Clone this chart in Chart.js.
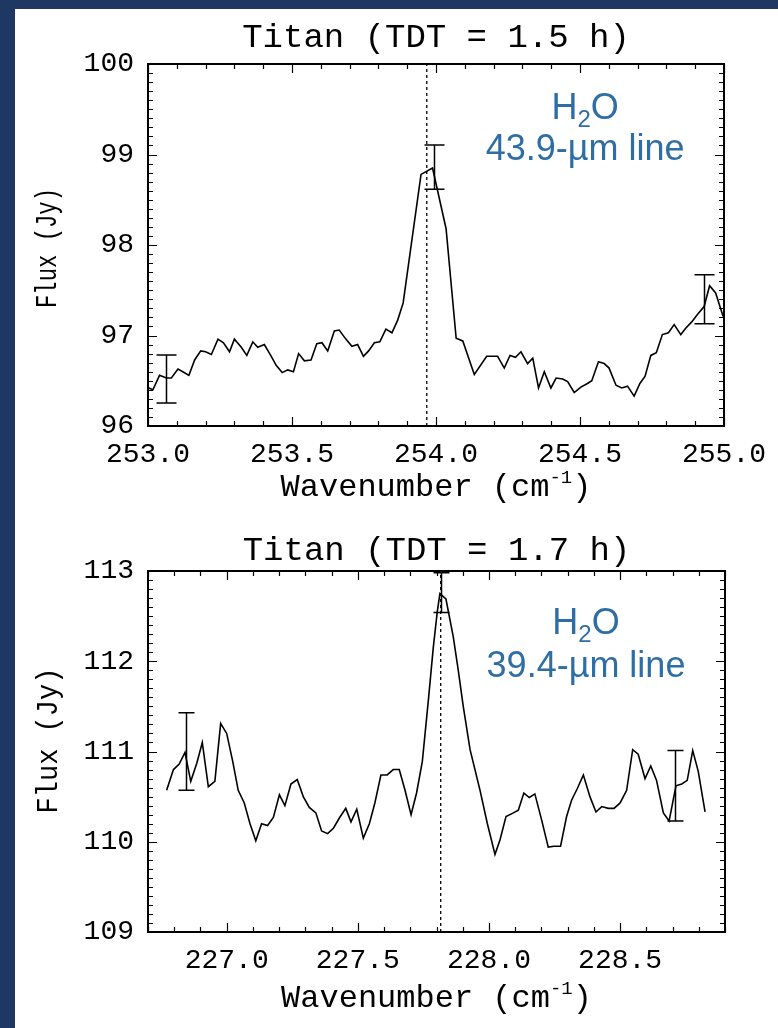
<!DOCTYPE html>
<html>
<head>
<meta charset="utf-8">
<script src="https://cdn.jsdelivr.net/npm/chart.js@4.4.1/dist/chart.umd.min.js"></script>
<style>
  html, body { margin: 0; padding: 0; }
  body { width: 778px; height: 1028px; background: #1f3863; position: relative; overflow: hidden; }
  #panel { position: absolute; left: 15px; top: 9px; width: 763px; height: 1019px; background: #fff; }
  #panel canvas { position: absolute; left: 0; }
  #c1 { top: 0; }
  #c2 { top: 500px; }
</style>
</head>
<body>
<div id="panel">
  <canvas id="c1" width="763" height="500"></canvas>
  <canvas id="c2" width="763" height="519"></canvas>
</div>
<script>
// ---- 43.9 um spectrum, TDT = 1.5 h ----
const wn15 = [253.003, 253.017, 253.040, 253.064, 253.081, 253.104, 253.121, 253.142, 253.162, 253.183,
  253.200, 253.220, 253.243, 253.262, 253.283, 253.300, 253.324, 253.343, 253.364, 253.381,
  253.404, 253.428, 253.445, 253.466, 253.485, 253.505, 253.523, 253.543, 253.566, 253.586,
  253.604, 253.624, 253.647, 253.664, 253.687, 253.708, 253.728, 253.748, 253.766, 253.786,
  253.805, 253.826, 253.847, 253.867, 253.886, 253.948, 253.988, 254.035, 254.070, 254.093,
  254.133, 254.176, 254.214, 254.237, 254.257, 254.276, 254.295, 254.318, 254.336, 254.356,
  254.376, 254.399, 254.417, 254.440, 254.457, 254.480, 254.503, 254.526, 254.541, 254.564,
  254.584, 254.601, 254.625, 254.645, 254.665, 254.688, 254.708, 254.726, 254.746, 254.765,
  254.786, 254.807, 254.827, 254.850, 254.867, 254.888, 254.907, 254.931, 254.950, 254.971,
  254.997];
const flux15 = [96.42, 96.40, 96.56, 96.53, 96.53, 96.63, 96.60, 96.56, 96.73, 96.83,
  96.82, 96.79, 96.96, 96.92, 96.82, 96.96, 96.87, 96.78, 96.93, 96.87,
  96.90, 96.77, 96.67, 96.59, 96.62, 96.60, 96.80, 96.72, 96.73, 96.91,
  96.92, 96.83, 97.05, 97.06, 96.96, 96.88, 96.90, 96.77, 96.83, 96.92,
  96.93, 97.07, 97.03, 97.17, 97.36, 98.78, 98.85, 98.18, 96.97, 96.94,
  96.57, 96.77, 96.77, 96.64, 96.78, 96.76, 96.82, 96.69, 96.75, 96.42,
  96.60, 96.42, 96.53, 96.52, 96.49, 96.37, 96.43, 96.47, 96.50, 96.71,
  96.69, 96.64, 96.45, 96.42, 96.44, 96.33, 96.47, 96.55, 96.78, 96.81,
  97.01, 97.03, 97.12, 97.01, 97.08, 97.15, 97.23, 97.32, 97.55, 97.47,
  97.21];
const errWn15 = [253.061, 253.993, 254.931];
const errFlux15 = [96.52, 98.86, 97.40];
const errSize15 = [0.265, 0.245, 0.27];
const line15 = 253.968;
const xTicks15 = [253.0, 253.5, 254.0, 254.5, 255.0];
const yTicks15 = [96, 97, 98, 99, 100];

// ---- 39.4 um spectrum, TDT = 1.7 h ----
const wn17 = [226.771, 226.797, 226.819, 226.841, 226.863, 226.886, 226.907, 226.930, 226.955, 226.977,
  227.000, 227.023, 227.044, 227.067, 227.089, 227.111, 227.133, 227.156, 227.178, 227.201,
  227.222, 227.245, 227.269, 227.292, 227.315, 227.340, 227.362, 227.385, 227.407, 227.429,
  227.454, 227.474, 227.496, 227.521, 227.544, 227.565, 227.588, 227.612, 227.635, 227.658,
  227.680, 227.703, 227.724, 227.746, 227.769, 227.788, 227.803, 227.813, 227.836, 227.864,
  227.883, 227.902, 227.928, 227.966, 227.994, 228.023, 228.042, 228.065, 228.093, 228.112,
  228.133, 228.154, 228.175, 228.201, 228.226, 228.248, 228.273, 228.296, 228.315, 228.337,
  228.360, 228.385, 228.408, 228.430, 228.455, 228.477, 228.500, 228.525, 228.548, 228.569,
  228.595, 228.617, 228.639, 228.665, 228.687, 228.713, 228.735, 228.756, 228.777, 228.798,
  228.824];
const flux17 = [110.57, 110.80, 110.86, 110.99, 110.67, 110.87, 111.10, 110.61, 110.67, 111.31,
  111.20, 110.89, 110.57, 110.43, 110.20, 110.01, 110.20, 110.18, 110.27, 110.52,
  110.40, 110.64, 110.69, 110.50, 110.38, 110.32, 110.12, 110.09, 110.15, 110.26,
  110.37, 110.22, 110.36, 110.04, 110.20, 110.43, 110.74, 110.74, 110.80, 110.80,
  110.57, 110.30, 110.54, 110.89, 111.57, 112.16, 112.55, 112.75, 112.69, 112.27,
  111.90, 111.50, 111.02, 110.57, 110.20, 109.86, 110.02, 110.28, 110.32, 110.35,
  110.54, 110.49, 110.53, 110.24, 109.94, 109.95, 109.95, 110.28, 110.46, 110.59,
  110.74, 110.50, 110.33, 110.39, 110.37, 110.37, 110.43, 110.57, 111.02, 110.97,
  110.70, 110.84, 110.68, 110.32, 110.23, 110.62, 110.64, 110.68, 111.01, 110.78,
  110.33];
const errWn17 = [226.844, 227.816, 228.709];
const errFlux17 = [111.00, 112.76, 110.62];
const errSize17 = [0.43, 0.22, 0.39];
const line17 = 227.816;
const xTicks17 = [227.0, 227.5, 228.0, 228.5];
const yTicks17 = [109, 110, 111, 112, 113];

const MONO = '"Liberation Mono", "DejaVu Sans Mono", monospace';
const SANS = '"Liberation Sans", Arial, sans-serif';
const NOTE_BLUE = '#2f6ea5';

// IDL-style frame: inward ticks on all four sides, error bars, titles and the line label
const idlFrame = {
  id: 'idlFrame',
  afterDatasetsDraw(chart, args, o) {
    const { ctx, chartArea: a } = chart;
    const x = chart.scales.x, y = chart.scales.y;
    ctx.save();
    ctx.strokeStyle = '#000';
    ctx.fillStyle = '#000';

    // error bars
    ctx.lineWidth = 1.5;
    o.errX.forEach((v, i) => {
      const px = Math.round(x.getPixelForValue(v)) + 0.5;
      const hi = y.getPixelForValue(o.errY[i] + o.errD[i]);
      const lo = y.getPixelForValue(o.errY[i] - o.errD[i]);
      ctx.beginPath();
      ctx.moveTo(px, hi); ctx.lineTo(px, lo);
      ctx.moveTo(px - o.cap, hi); ctx.lineTo(px + o.cap, hi);
      ctx.moveTo(px - o.cap, lo); ctx.lineTo(px + o.cap, lo);
      ctx.stroke();
    });

    // tick marks, major every label, minor every 0.1
    ctx.lineWidth = 1.2;
    const marks = (scale, majors, horizontal) => {
      const step = 0.1;
      const k0 = Math.ceil(scale.min / step - 1e-6);
      const k1 = Math.floor(scale.max / step + 1e-6);
      ctx.beginPath();
      for (let k = k0; k <= k1; k++) {
        const v = k * step;
        const len = majors.some(m => Math.abs(m - v) < 1e-6) ? 9 : 5;
        const p = Math.round(scale.getPixelForValue(v)) + 0.5;
        if (horizontal) {
          ctx.moveTo(p, a.bottom); ctx.lineTo(p, a.bottom - len);
          ctx.moveTo(p, a.top); ctx.lineTo(p, a.top + len);
        } else {
          ctx.moveTo(a.left, p); ctx.lineTo(a.left + len, p);
          ctx.moveTo(a.right, p); ctx.lineTo(a.right - len, p);
        }
      }
      ctx.stroke();
    };
    marks(x, o.xTicks, true);
    marks(y, o.yTicks, false);

    // frame
    ctx.lineWidth = 2;
    ctx.strokeRect(a.left, a.top, a.right - a.left, a.bottom - a.top);

    const cx = (a.left + a.right) / 2;

    // plot title
    ctx.textAlign = 'center';
    ctx.textBaseline = 'middle';
    ctx.font = '34px ' + MONO;
    ctx.fillText(o.title, cx, a.top - o.titleGap);

    // x axis title with superscript
    ctx.font = '32px ' + MONO;
    const main = 'Wavenumber (cm', tail = ')';
    const wMain = ctx.measureText(main).width;
    const wTail = ctx.measureText(tail).width;
    ctx.font = '19px ' + MONO;
    const sup = '-1';
    const wSup = ctx.measureText(sup).width;
    let tx = cx - (wMain + wSup + wTail) / 2;
    const ty = a.bottom + o.xTitleGap;
    ctx.textAlign = 'left';
    ctx.textBaseline = 'alphabetic';
    ctx.font = '32px ' + MONO;
    ctx.fillText(main, tx, ty);
    ctx.font = '19px ' + MONO;
    ctx.fillText(sup, tx + wMain, ty - 13);
    ctx.font = '32px ' + MONO;
    ctx.fillText(tail, tx + wMain + wSup, ty);

    // y axis title, set in a narrow column
    ctx.save();
    ctx.translate(o.yTitleX, (a.top + a.bottom) / 2 + o.yTitleShift);
    ctx.rotate(-Math.PI / 2);
    ctx.scale(o.yTitleSqueeze, 1);
    ctx.textAlign = 'center';
    ctx.textBaseline = 'middle';
    ctx.font = '30px ' + MONO;
    ctx.fillText('Flux (Jy)', 0, 0);
    ctx.restore();

    // line label
    ctx.fillStyle = NOTE_BLUE;
    const nx = x.getPixelForValue(o.noteAt);
    const b1 = a.top + o.noteBase[0], b2 = a.top + o.noteBase[1];
    ctx.font = '36px ' + SANS;
    const wH = ctx.measureText('H').width, wO = ctx.measureText('O').width;
    ctx.font = '24px ' + SANS;
    const w2 = ctx.measureText('2').width;
    let hx = nx - (wH + w2 + wO) / 2;
    ctx.textAlign = 'left';
    ctx.font = '36px ' + SANS;
    ctx.fillText('H', hx, b1);
    ctx.font = '24px ' + SANS;
    ctx.fillText('2', hx + wH, b1 + 8);
    ctx.font = '36px ' + SANS;
    ctx.fillText('O', hx + wH + w2, b1);
    ctx.textAlign = 'center';
    ctx.fillText(o.note, nx, b2);

    ctx.restore();
  }
};

function spectrumChart(canvasId, s) {
  const yMin = s.yTicks[0], yMax = s.yTicks[s.yTicks.length - 1];
  const tickFont = { family: MONO, size: 28 };
  return new Chart(document.getElementById(canvasId), {
    type: 'line',
    data: {
      datasets: [
        {
          data: s.wn.map((v, i) => ({ x: v, y: s.flux[i] })),
          borderColor: '#000', borderWidth: 1.6, pointRadius: 0, tension: 0
        },
        {
          // rest wavenumber of the water line
          data: [{ x: s.line, y: yMin }, { x: s.line, y: yMax }],
          borderColor: '#000', borderWidth: 1.3, borderDash: [3, 3], pointRadius: 0
        }
      ]
    },
    options: {
      responsive: false,
      animation: false,
      events: [],
      layout: { padding: { top: s.padTop, right: 53, bottom: 0, left: 0 } },
      plugins: {
        legend: { display: false },
        tooltip: { enabled: false },
        idlFrame: s.frame
      },
      scales: {
        x: {
          type: 'linear', min: s.xMin, max: s.xMax,
          grid: { display: false, drawTicks: false },
          border: { display: false },
          afterBuildTicks: (ax) => { ax.ticks = s.xTicks.map(v => ({ value: v })); },
          afterFit: (ax) => { ax.height = s.xAxisH; },
          ticks: {
            font: tickFont, color: '#000', padding: 12, maxRotation: 0, autoSkip: false,
            callback: (v) => Number(v).toFixed(1)
          }
        },
        y: {
          type: 'linear', min: yMin, max: yMax,
          grid: { display: false, drawTicks: false },
          border: { display: false },
          afterBuildTicks: (ax) => { ax.ticks = s.yTicks.map(v => ({ value: v })); },
          afterFit: (ax) => { ax.width = 133; },
          ticks: {
            font: tickFont, color: '#000', padding: 14, autoSkip: false,
            callback: (v) => String(v)
          }
        }
      }
    },
    plugins: [idlFrame]
  });
}

spectrumChart('c1', {
  wn: wn15, flux: flux15, line: line15,
  xMin: 253.0, xMax: 255.0, xTicks: xTicks15, yTicks: yTicks15,
  padTop: 55, xAxisH: 83,
  frame: {
    title: 'Titan (TDT = 1.5 h)', titleGap: 26, xTitleGap: 70,
    yTitleX: 33, yTitleShift: 3, yTitleSqueeze: 0.74,
    errX: errWn15, errY: errFlux15, errD: errSize15, cap: 10,
    xTicks: xTicks15, yTicks: yTicks15,
    noteAt: 254.518, noteBase: [55, 96], note: '43.9-\u00b5m line'
  }
});

spectrumChart('c2', {
  wn: wn17, flux: flux17, line: line17,
  xMin: 226.70, xMax: 228.90, xTicks: xTicks17, yTicks: yTicks17,
  padTop: 62, xAxisH: 96,
  frame: {
    title: 'Titan (TDT = 1.7 h)', titleGap: 20, xTitleGap: 75,
    yTitleX: 34, yTitleShift: -11, yTitleSqueeze: 0.9,
    errX: errWn17, errY: errFlux17, errD: errSize17, cap: 8,
    xTicks: xTicks17, yTicks: yTicks17,
    noteAt: 228.370, noteBase: [63, 106], note: '39.4-\u00b5m line'
  }
});
</script>
</body>
</html>
